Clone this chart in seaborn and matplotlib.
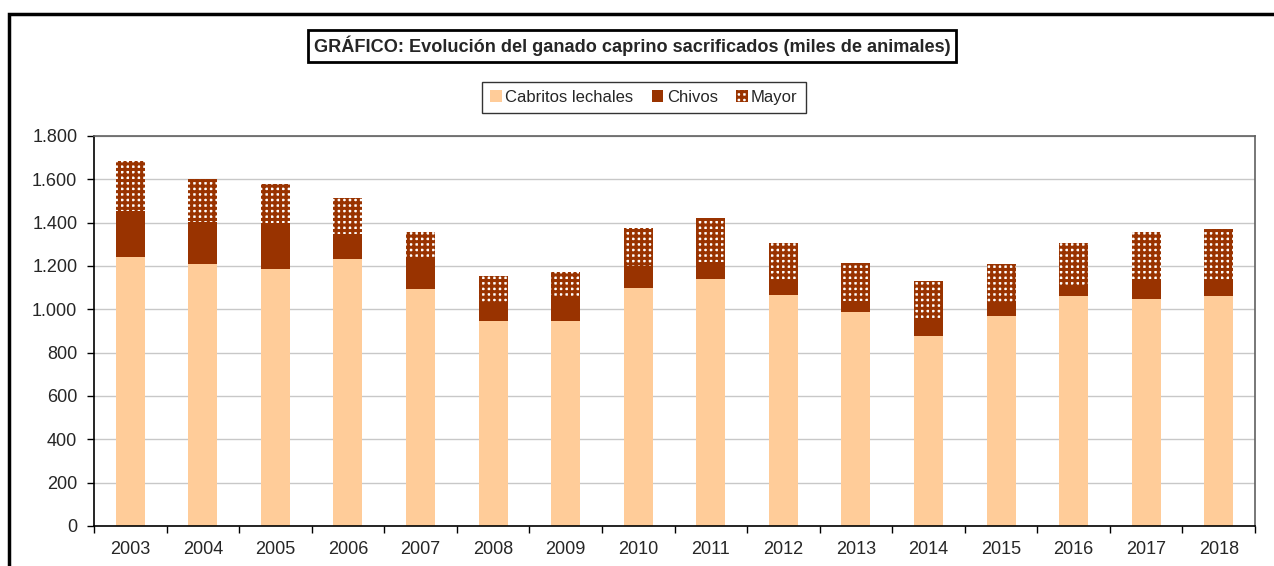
import numpy as np
import pandas as pd
import matplotlib.pyplot as plt
import seaborn as sns
from matplotlib.patches import Rectangle, Patch
from matplotlib.ticker import FuncFormatter, MultipleLocator

# valores (miles de animales)
years = ["2003", "2004", "2005", "2006", "2007", "2008", "2009", "2010",
         "2011", "2012", "2013", "2014", "2015", "2016", "2017", "2018"]
cabritos = [1243, 1211, 1186, 1234, 1092, 945, 945, 1097,
            1138, 1065, 989, 879, 971, 1060, 1049, 1063]
chivos = [209, 192, 214, 115, 142, 87, 113, 102,
          79, 68, 49, 81, 64, 51, 91, 67]
mayor = [231, 200, 180, 167, 121, 121, 113, 175,
         204, 173, 174, 169, 174, 194, 217, 239]

labels = ["Cabritos lechales", "Chivos", "Mayor"]
c_cab = "#FFCC99"
c_chivo = "#993300"

df = pd.DataFrame({"Año": years, "Cabritos": cabritos,
                   "Chivos": chivos, "Mayor": mayor})
df["hasta_chivos"] = df["Cabritos"] + df["Chivos"]
df["total"] = df["hasta_chivos"] + df["Mayor"]

sns.set_style("white")
plt.rcParams["font.family"] = ["Liberation Sans", "DejaVu Sans"]
plt.rcParams["hatch.linewidth"] = 2.2

fig = plt.figure(figsize=(12.74, 5.66), dpi=100)
ax = fig.add_axes([94 / 1274, 1 - 526 / 566, (1255 - 94) / 1274, (526 - 136) / 566])

# barras apiladas: se dibuja el total y encima los acumulados
sns.barplot(data=df, x="Año", y="total", color="white", saturation=1,
            width=0.4, errorbar=None, edgecolor=c_chivo, linewidth=0,
            hatch="+++", ax=ax)
sns.barplot(data=df, x="Año", y="hasta_chivos", color=c_chivo, saturation=1,
            width=0.4, errorbar=None, linewidth=0, ax=ax)
sns.barplot(data=df, x="Año", y="Cabritos", color=c_cab, saturation=1,
            width=0.4, errorbar=None, linewidth=0, ax=ax)

ax.set_ylim(0, 1800)
ax.set_xlim(-0.5, len(years) - 0.5)
ax.yaxis.set_major_locator(MultipleLocator(200))
ax.yaxis.set_major_formatter(FuncFormatter(lambda v, p: f"{int(v):,}".replace(",", ".")))
ax.grid(axis="y", color="#c8c8c8", lw=1)
ax.set_axisbelow(True)
ax.set_xlabel("")
ax.set_ylabel("")

ax.set_xticks(np.arange(-0.5, len(years)), minor=True)
ax.tick_params(axis="x", which="major", length=0, pad=11, labelsize=13)
ax.tick_params(axis="x", which="minor", length=5, width=1, color="black", direction="out")
ax.tick_params(axis="y", length=5, width=1, color="black", direction="out", pad=7, labelsize=13)
ax.xaxis.set_ticks_position("bottom")
ax.yaxis.set_ticks_position("left")

for s in ["left", "bottom"]:
    ax.spines[s].set_color("black")
    ax.spines[s].set_linewidth(1.2)
for s in ["top", "right"]:
    ax.spines[s].set_color("#606060")
    ax.spines[s].set_linewidth(1.2)

# titulo en recuadro
fig.text(632 / 1274, 1 - 46 / 566,
         "GRÁFICO: Evolución del ganado caprino sacrificados (miles de animales)",
         ha="center", va="center", fontsize=13.1, fontweight="bold",
         bbox=dict(boxstyle="square,pad=0.3", fc="white", ec="black", lw=2))

handles = [Patch(facecolor=c_cab, lw=0),
           Patch(facecolor=c_chivo, lw=0),
           Patch(facecolor="white", edgecolor=c_chivo, lw=0, hatch="+++")]
leg = fig.legend(handles, labels, ncol=3, loc="center",
                 bbox_to_anchor=(644 / 1274, 1 - 97.5 / 566),
                 fontsize=12, frameon=True, fancybox=False,
                 edgecolor="black", handlelength=0.7, handleheight=0.7,
                 handletextpad=0.2, columnspacing=1.1, borderpad=0.5)
leg.get_frame().set_linewidth(1.0)

# marco exterior del grafico
fig.add_artist(Rectangle((9 / 1274, -0.1), 1.2, 1.1 - 14 / 566,
                         transform=fig.transFigure, fill=False,
                         ec="black", lw=2.5))

fig.savefig("out.png", dpi=100)
